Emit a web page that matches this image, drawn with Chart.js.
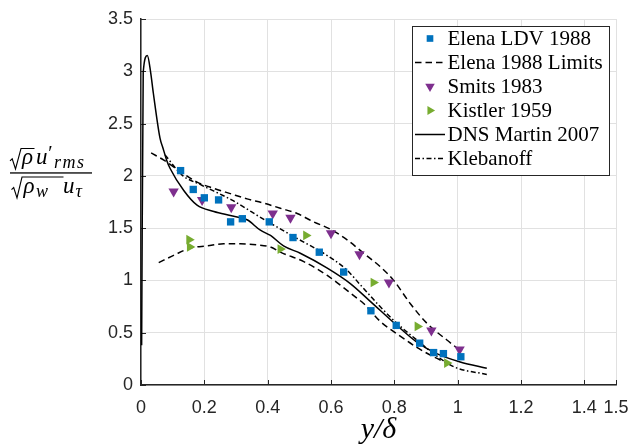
<!DOCTYPE html>
<html>
<head>
<meta charset="utf-8">
<script src="https://cdn.jsdelivr.net/npm/chart.js@4.4.0/dist/chart.umd.min.js"></script>
<style>
  html, body { margin: 0; padding: 0; background: #fff; }
  #wrap { width: 632px; height: 448px; }
</style>
</head>
<body>
<div id="wrap"><canvas id="chart" width="632" height="448"></canvas></div>
<script>
  // ── Axis ticks ─────────────────────────────────────────────────────────────
  const xTickValues = [0, 0.2, 0.4, 0.6, 0.8, 1, 1.2, 1.4, 1.5];
  const xTickLabels = ['0', '0.2', '0.4', '0.6', '0.8', '1', '1.2', '1.4', '1.5'];
  const yTickValues = [0, 0.5, 1, 1.5, 2, 2.5, 3, 3.5];
  const yTickLabels = ['0', '0.5', '1', '1.5', '2', '2.5', '3', '3.5'];

  // ── Measurements (markers) ─────────────────────────────────────────────────
  const elenaLdvX = [0.125, 0.165, 0.200, 0.245, 0.283, 0.320, 0.405, 0.480, 0.563, 0.640, 0.726, 0.806, 0.880, 0.924, 0.955, 1.010];
  const elenaLdvY = [2.05, 1.87, 1.79, 1.77, 1.56, 1.59, 1.56, 1.41, 1.27, 1.08, 0.71, 0.57, 0.40, 0.31, 0.30, 0.27];

  const smitsX = [0.103, 0.193, 0.285, 0.416, 0.472, 0.600, 0.690, 0.783, 0.917, 1.006];
  const smitsY = [1.85, 1.77, 1.70, 1.64, 1.60, 1.45, 1.25, 0.98, 0.52, 0.34];

  const kistlerX = [0.152, 0.154, 0.440, 0.521, 0.734, 0.873, 0.966];
  const kistlerY = [1.39, 1.32, 1.30, 1.43, 0.98, 0.56, 0.21];

  // ── Curves ─────────────────────────────────────────────────────────────────
  const limitUpperX = [0.032, 0.072, 0.125, 0.177, 0.230, 0.282, 0.335, 0.387, 0.440, 0.493, 0.545, 0.598, 0.650, 0.703, 0.756, 0.798, 0.850, 0.903, 0.966, 1.008];
  const limitUpperY = [2.22, 2.15, 2.04, 1.94, 1.88, 1.83, 1.78, 1.74, 1.69, 1.64, 1.56, 1.49, 1.39, 1.26, 1.13, 1.00, 0.78, 0.59, 0.43, 0.33];

  const limitLowerX = [0.056, 0.103, 0.156, 0.209, 0.261, 0.314, 0.367, 0.409, 0.440, 0.514, 0.587, 0.682, 0.703, 0.755, 0.808, 0.871, 0.924, 0.980];
  const limitLowerY = [1.17, 1.24, 1.31, 1.33, 1.35, 1.35, 1.34, 1.32, 1.27, 1.18, 1.05, 0.83, 0.78, 0.61, 0.49, 0.36, 0.27, 0.19];

  const dnsX = [0.002, 0.007, 0.020, 0.030, 0.039, 0.060, 0.070, 0.081, 0.092, 0.135, 0.177, 0.230, 0.282, 0.335, 0.377, 0.409, 0.450, 0.503, 0.587, 0.661, 0.724, 0.808, 0.871, 0.934, 1.008, 1.092];
  const dnsY = [0.38, 2.99, 3.15, 3.00, 2.79, 2.36, 2.26, 2.15, 2.07, 1.86, 1.72, 1.66, 1.62, 1.58, 1.48, 1.43, 1.33, 1.26, 1.12, 0.97, 0.80, 0.57, 0.41, 0.30, 0.22, 0.16];

  const klebanoffX = [0.076, 0.129, 0.192, 0.286, 0.390, 0.482, 0.587, 0.650, 0.692, 0.755, 0.808, 0.871, 0.924, 0.987, 1.092];
  const klebanoffY = [2.20, 2.01, 1.91, 1.77, 1.58, 1.42, 1.24, 1.10, 0.96, 0.75, 0.59, 0.43, 0.30, 0.175, 0.10];

  // ── Style ──────────────────────────────────────────────────────────────────
  const AXIS_COLOR = '#262626';
  const GRID_COLOR = '#e1e1e1';
  const SERIF = '"Liberation Serif", "Times New Roman", serif';
  const SANS  = '"Liberation Sans", Arial, sans-serif';
  const BLUE = '#0072bd', PURPLE = '#7e2f8e', GREEN = '#77ac30';

  const pts = (xs, ys) => xs.map((x, i) => ({ x, y: ys[i] }));

  function markerSet(label, xs, ys, color, style, rotation, radius) {
    return {
      label, data: pts(xs, ys), showLine: false, order: 0,
      pointStyle: style, rotation, pointRadius: radius, pointHoverRadius: radius,
      backgroundColor: color, borderColor: color, borderWidth: 0
    };
  }

  function lineSet(label, xs, ys, dash, inLegend) {
    return {
      label, data: pts(xs, ys), showLine: true, order: 1, inLegend,
      borderColor: '#000', borderWidth: 1.5, borderDash: dash,
      pointRadius: 0, pointHoverRadius: 0, cubicInterpolationMode: 'monotone'
    };
  }

  const datasets = [
    markerSet('Elena LDV 1988', elenaLdvX, elenaLdvY, BLUE, 'rect', 0, 5.2),
    lineSet('Elena 1988 Limits', limitUpperX, limitUpperY, [6.5, 4], true),
    markerSet('Smits 1983', smitsX, smitsY, PURPLE, 'triangle', 180, 6),
    markerSet('Kistler 1959', kistlerX, kistlerY, GREEN, 'triangle', 90, 5.6),
    lineSet('DNS Martin 2007', dnsX, dnsY, [], true),
    lineSet('Klebanoff', klebanoffX, klebanoffY, [5, 2.5, 1.5, 2.5], true),
    lineSet('', limitLowerX, limitLowerY, [6.5, 4], false)
  ];

  // ── Drawing helpers ────────────────────────────────────────────────────────
  function drawMark(ctx, style, rotation, radius, x, y, color) {
    ctx.save();
    ctx.translate(x, y);
    ctx.rotate(rotation * Math.PI / 180);
    ctx.beginPath();
    if (style === 'rect') {
      const s = radius * Math.SQRT1_2;
      ctx.rect(-s, -s, 2 * s, 2 * s);
    } else {
      for (let k = 0; k < 3; k++) {
        const a = k * 2 * Math.PI / 3;
        ctx.lineTo(Math.sin(a) * radius, -Math.cos(a) * radius);
      }
      ctx.closePath();
    }
    ctx.fillStyle = color;
    ctx.fill();
    ctx.restore();
  }

  function radical(ctx, x0, top, xBar, xEnd, bottom) {
    const h = bottom - top;
    ctx.beginPath();
    ctx.moveTo(x0, top + h * 0.6);
    ctx.lineTo(x0 + 2.2, top + h * 0.5);
    ctx.lineTo(x0 + 5.5, bottom);
    ctx.lineTo(xBar, top);
    ctx.lineTo(xEnd, top);
    ctx.lineWidth = 1.1;
    ctx.stroke();
  }

  function text(ctx, font, str, x, baseline, spacing) {
    ctx.font = font;
    ctx.letterSpacing = spacing || '0px';
    ctx.fillText(str, x, baseline);
    ctx.letterSpacing = '0px';
  }

  function drawYLabel(ctx) {
    const big = 'italic 23px ' + SERIF;
    const sub = 'italic 18px ' + SERIF;
    ctx.save();
    ctx.fillStyle = '#000';
    ctx.strokeStyle = '#000';
    ctx.textAlign = 'left';
    ctx.textBaseline = 'alphabetic';
    // numerator: sqrt(rho) u'_rms
    radical(ctx, 10, 148.5, 21, 34.5, 169);
    text(ctx, big, 'ρ', 22, 163.5);
    text(ctx, big, 'u', 36, 163.5);
    text(ctx, 'italic 20px ' + SERIF, '′', 47, 160);
    text(ctx, sub, 'rms', 54, 167.5, '1.5px');
    // fraction bar
    ctx.fillRect(10, 172.3, 82, 1.3);
    // denominator: sqrt(rho_w) u_tau
    radical(ctx, 11.5, 177, 22, 63.5, 198);
    text(ctx, big, 'ρ', 23.5, 192.7);
    text(ctx, sub, 'w', 36, 196.5);
    text(ctx, big, 'u', 63, 192.7);
    text(ctx, sub, 'τ', 75.5, 196.5);
    ctx.restore();
  }

  function drawXTitle(ctx, area) {
    ctx.save();
    ctx.font = 'italic 30px ' + SERIF;
    ctx.fillStyle = '#000';
    ctx.textAlign = 'center';
    ctx.textBaseline = 'alphabetic';
    ctx.fillText('y/δ', (area.left + area.right) / 2, 438);
    ctx.restore();
  }

  function drawLegend(ctx, chart) {
    const box = { x: 412.5, y: 26.5, w: 197, h: 149 };
    const rowH = 24, firstRow = 38.5;
    ctx.save();
    ctx.fillStyle = '#fff';
    ctx.fillRect(box.x, box.y, box.w, box.h);
    ctx.strokeStyle = AXIS_COLOR;
    ctx.lineWidth = 1;
    ctx.strokeRect(box.x, box.y, box.w, box.h);

    const items = chart.data.datasets.filter(ds => ds.showLine ? ds.inLegend : true);
    ctx.font = '21px ' + SERIF;
    ctx.textAlign = 'left';
    ctx.textBaseline = 'middle';
    items.forEach((ds, i) => {
      const y = firstRow + i * rowH;
      if (ds.showLine) {
        ctx.beginPath();
        ctx.setLineDash(ds.borderDash || []);
        ctx.lineWidth = ds.borderWidth;
        ctx.strokeStyle = ds.borderColor;
        ctx.moveTo(415, y);
        ctx.lineTo(445, y);
        ctx.stroke();
        ctx.setLineDash([]);
      } else {
        drawMark(ctx, ds.pointStyle, ds.rotation, ds.pointRadius - 0.5, 430, y, ds.backgroundColor);
      }
      ctx.fillStyle = '#000';
      ctx.fillText(ds.label, 447.5, y + 1);
    });
    ctx.restore();
  }

  // ── Plugin: inward ticks, labels, legend ───────────────────────────────────
  const decorations = {
    id: 'decorations',
    beforeDatasetsDraw(chart) {
      const { ctx, chartArea: a, scales } = chart;
      ctx.save();
      ctx.strokeStyle = AXIS_COLOR;
      ctx.lineWidth = 1;
      ctx.beginPath();
      xTickValues.forEach(v => {
        const px = Math.round(scales.x.getPixelForValue(v)) + 0.5;
        ctx.moveTo(px, a.bottom);
        ctx.lineTo(px, a.bottom - 5);
      });
      yTickValues.forEach(v => {
        const py = Math.round(scales.y.getPixelForValue(v)) + 0.5;
        ctx.moveTo(a.left, py);
        ctx.lineTo(a.left + 5, py);
      });
      ctx.stroke();
      ctx.restore();
    },
    afterDraw(chart) {
      const ctx = chart.ctx;
      drawLegend(ctx, chart);
      drawYLabel(ctx);
      drawXTitle(ctx, chart.chartArea);
    }
  };

  new Chart(document.getElementById('chart'), {
    type: 'scatter',
    data: { datasets },
    options: {
      responsive: false,
      animation: false,
      devicePixelRatio: 1,
      layout: { padding: { top: 19, right: 16, bottom: 0, left: 0 } },
      plugins: { legend: { display: false }, tooltip: { enabled: false } },
      scales: {
        x: {
          type: 'linear', min: 0, max: 1.5,
          afterBuildTicks: s => { s.ticks = xTickValues.map(v => ({ value: v })); },
          afterFit: s => { s.height = 63; s.paddingLeft = 0; s.paddingRight = 0; },
          ticks: {
            autoSkip: false, maxRotation: 0, padding: 12, color: AXIS_COLOR,
            font: { family: SANS, size: 18 },
            callback: (v, i) => xTickLabels[i]
          },
          grid: { color: GRID_COLOR, lineWidth: 1, drawTicks: false },
          border: { color: AXIS_COLOR, width: 1.5 }
        },
        y: {
          type: 'linear', min: 0, max: 3.5,
          afterBuildTicks: s => { s.ticks = yTickValues.map(v => ({ value: v })); },
          afterFit: s => { s.width = 141; s.paddingTop = 0; s.paddingBottom = 0; },
          ticks: {
            autoSkip: false, padding: 8, color: AXIS_COLOR,
            font: { family: SANS, size: 18 },
            callback: (v, i) => yTickLabels[i]
          },
          grid: { color: GRID_COLOR, lineWidth: 1, drawTicks: false },
          border: { color: AXIS_COLOR, width: 1.5 }
        }
      }
    },
    plugins: [decorations]
  });
</script>
</body>
</html>
